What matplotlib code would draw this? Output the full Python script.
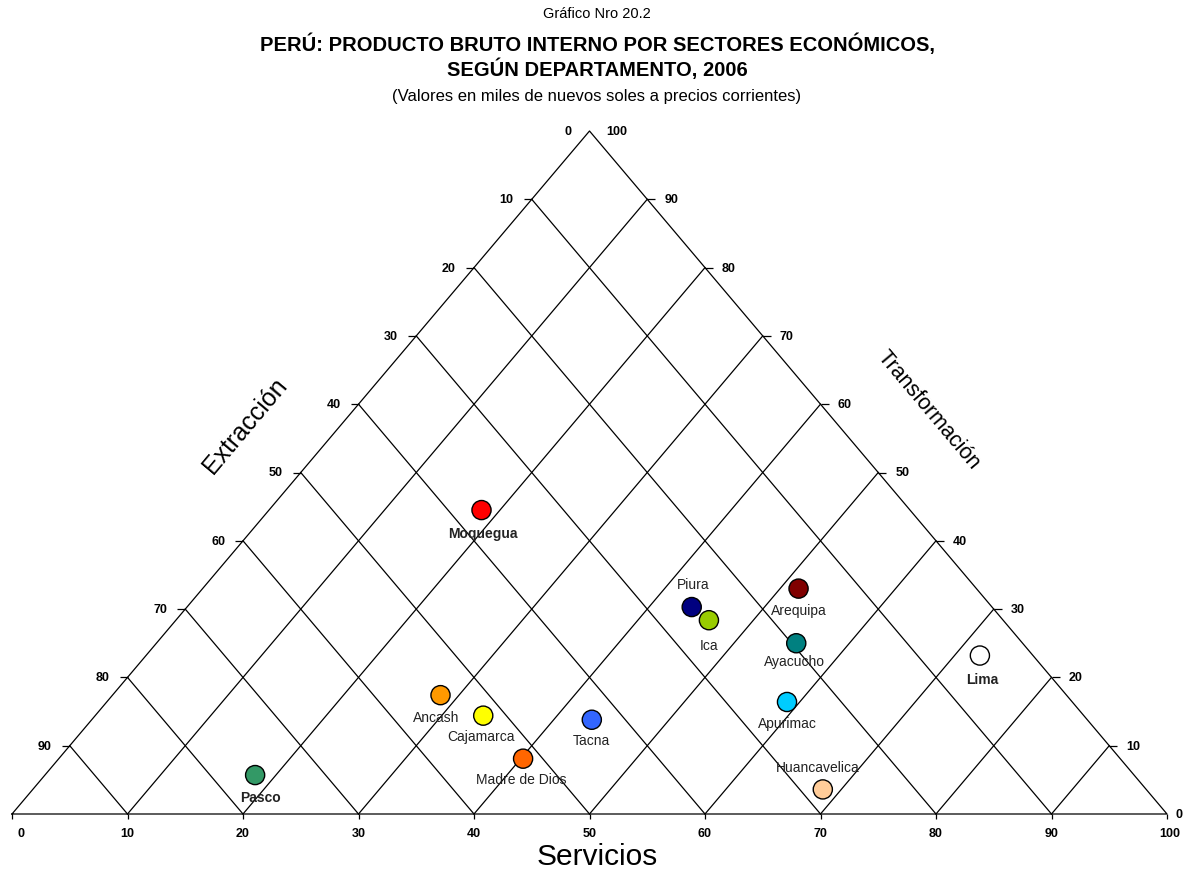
import numpy as np
import matplotlib
matplotlib.use("Agg")
import matplotlib.pyplot as plt

plt.rcParams['font.family'] = ['Liberation Sans', 'DejaVu Sans']

# ======================================================
# Data (percent shares: Servicios, Extraccion, Transformacion)
# ======================================================

departamentos = ["Moquegua", "Piura", "Ica", "Arequipa", "Ayacucho", "Lima",
                 "Apurimac", "Huancavelica", "Pasco", "Ancash", "Cajamarca",
                 "Tacna", "Madre de Dios"]
servicios = [18.4, 43.7, 46.2, 51.6, 55.4, 72.2, 58.9, 68.4, 18.2, 28.4, 33.6, 43.3, 40.2]
extraccion = [37.1, 26.0, 25.5, 15.4, 19.6, 4.6, 24.7, 28.0, 76.1, 54.2, 52.0, 42.9, 51.7]
transformacion = [44.5, 30.3, 28.4, 33.0, 25.0, 23.2, 16.4, 3.6, 5.7, 17.4, 14.4, 13.8, 8.1]
colores = ["#FF0000", "#000080", "#99CC00", "#800000", "#008080", "#FFFFFF",
           "#00CCFF", "#FFCC99", "#339966", "#FF9900", "#FFFF00", "#3366FF", "#FF6600"]
negrita = ["Moquegua", "Lima", "Pasco"]

ticks = list(range(0, 101, 10))


def tern(s, e, t):
    s, e, t = np.asarray(s, float), np.asarray(e, float), np.asarray(t, float)
    tot = s + e + t
    return (s + 0.5 * t) / tot, t / tot


# ======================================================
# Figure
# ======================================================

fig = plt.figure(figsize=(11.85, 8.74), dpi=100)
ax = fig.add_axes([12 / 1185, 60 / 874, 1155 / 1185, 683 / 874])
ax.set_xlim(0, 1)
ax.set_ylim(0, 1)
ax.axis("off")

lk = dict(color="black", lw=0.9, clip_on=False)

# outline
bx, by = tern([0, 100, 0, 0], [100, 0, 0, 100], [0, 0, 100, 0])
ax.plot(bx, by, **lk)

# grid lines (two diagonal families)
for k in ticks[1:-1]:
    x, y = tern([k, k], [100 - k, 0], [0, 100 - k])
    ax.plot(x, y, **lk)
    x, y = tern([0, 100 - k], [k, k], [100 - k, 0])
    ax.plot(x, y, **lk)

# tick marks
x, y = tern(ticks, [100 - k for k in ticks], [0] * len(ticks))
ax.plot(x, y, ls="none", marker=3, ms=3.6, mew=0.9, color="black", clip_on=False)
x, y = tern([0] * 9, ticks[1:-1], [100 - k for k in ticks[1:-1]])
ax.plot(x, y, ls="none", marker=0, ms=5.8, mew=0.9, color="black", clip_on=False)
x, y = tern([100 - k for k in ticks[1:-1]], [0] * 9, ticks[1:-1])
ax.plot(x, y, ls="none", marker=1, ms=5.8, mew=0.9, color="black", clip_on=False)

tk = dict(fontsize=9, fontweight="bold", textcoords="offset pixels", annotation_clip=False)
# bottom: Servicios
for k in ticks:
    x, y = tern(k, 100 - k, 0)
    dx = 9 if k == 0 else (3 if k == 100 else 0)
    ax.annotate(str(k), (x, y), xytext=(dx, -20), ha="center", va="center", **tk)
# left: Extraccion (0 at top)
for k in ticks[:-1]:
    x, y = tern(0, k, 100 - k)
    ax.annotate(str(k), (x, y), xytext=(-18, -1), ha="right", va="center", **tk)
# right: Transformacion (100 at top)
for k in ticks:
    x, y = tern(100 - k, 0, k)
    ax.annotate(str(k), (x, y), xytext=(17 if k else 9, -1), ha="left", va="center", **tk)

# points
px, py = tern(servicios, extraccion, transformacion)
ax.scatter(px, py, s=190, c=colores, edgecolors="black", linewidths=1, zorder=5, clip_on=False)

# label offsets in pixels (dx, dy)
offsets = {"Moquegua": (1, -24), "Piura": (1, 22), "Ica": (0, -26), "Arequipa": (0, -22),
           "Ayacucho": (-2, -19), "Lima": (2, -24), "Apurimac": (0, -22),
           "Huancavelica": (-5, 21), "Pasco": (5, -23), "Ancash": (-4, -23),
           "Cajamarca": (-2, -21), "Tacna": (0, -21), "Madre de Dios": (-2, -21)}
for nom, x, y in zip(departamentos, px, py):
    ax.annotate(nom, (x, y), xytext=offsets[nom], textcoords="offset pixels",
                ha="center", va="center", fontsize=10,
                fontweight="bold" if nom in negrita else "normal",
                color="#222222", zorder=6, annotation_clip=False)

# axis titles
fig.text(597 / 1185, 1 - 857 / 874, "Servicios", fontsize=21.5, ha="center", va="center")
fig.text(245 / 1185, 1 - 426 / 874, "Extracción", fontsize=18, rotation=50,
         ha="center", va="center", rotation_mode="anchor")
fig.text(928 / 1185, 1 - 410 / 874, "Transformación", fontsize=15.5, rotation=-50,
         ha="center", va="center", rotation_mode="anchor")

# titles
fig.text(597 / 1185, 1 - 14 / 874, "Gráfico Nro 20.2", fontsize=10.5, ha="center", va="center")
fig.text(597 / 1185, 1 - 44 / 874, "PERÚ: PRODUCTO BRUTO INTERNO POR SECTORES ECONÓMICOS,",
         fontsize=14.5, fontweight="bold", ha="center", va="center")
fig.text(597 / 1185, 1 - 69 / 874, "SEGÚN DEPARTAMENTO, 2006",
         fontsize=14.5, fontweight="bold", ha="center", va="center")
fig.text(597 / 1185, 1 - 97 / 874, "(Valores en miles de nuevos soles a precios corrientes)",
         fontsize=12, ha="center", va="center")

fig.savefig("out.png", dpi=100)
